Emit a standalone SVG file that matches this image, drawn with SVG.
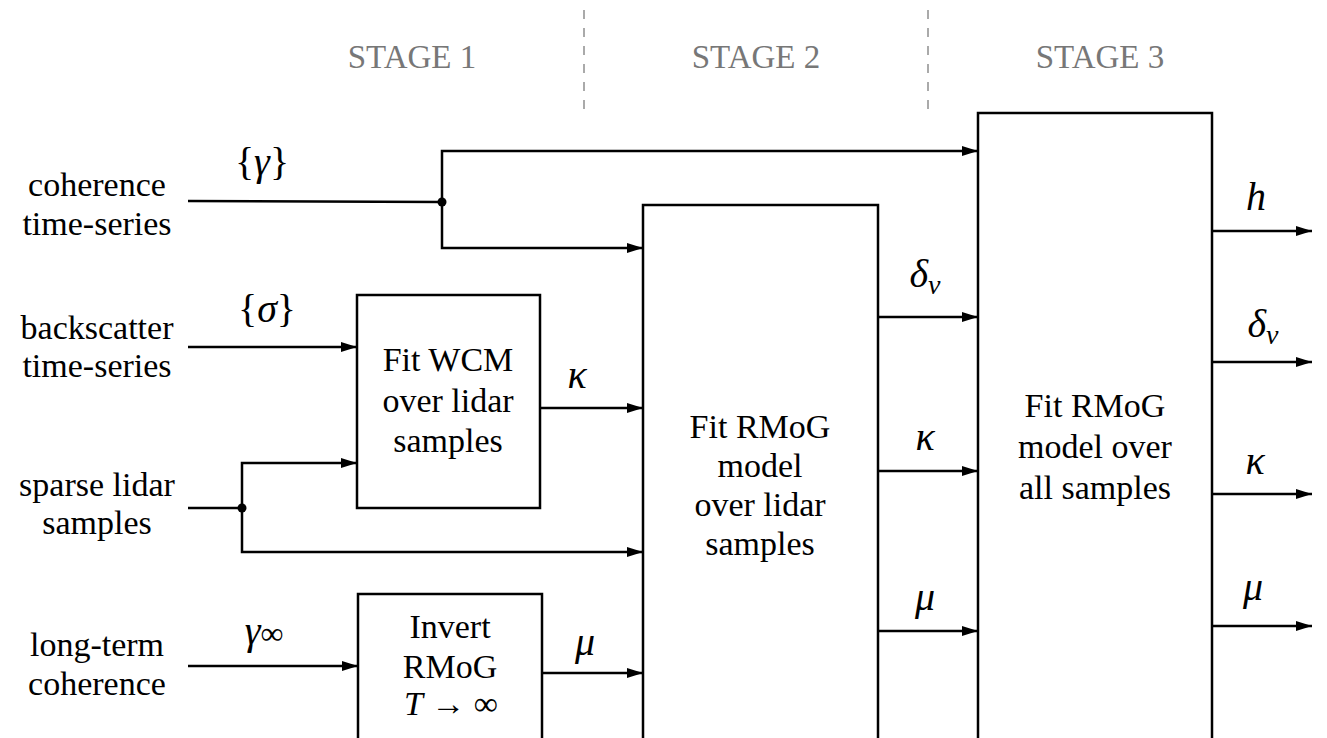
<svg xmlns="http://www.w3.org/2000/svg" width="1327" height="738" viewBox="0 0 1327 738">
<defs>
<marker id="ah" markerWidth="16" markerHeight="10" refX="16" refY="5" orient="auto" markerUnits="userSpaceOnUse">
<path d="M0,0 L16,5 L0,10 Z" fill="#000"/>
</marker>
<style>
.box{fill:#fff;stroke:#000;stroke-width:2.5}
.ln{fill:none;stroke:#000;stroke-width:2.5}
.arr{fill:none;stroke:#000;stroke-width:2.5;marker-end:url(#ah)}
.dash{stroke:#aaa;stroke-width:2;stroke-dasharray:9,9}
text{font-family:'Liberation Serif','Times New Roman',serif}
.stage{font-size:33px;fill:#777;text-anchor:middle}
.t{font-size:34px;fill:#000;text-anchor:middle}
.m{font-size:40px;font-style:italic;fill:#000;text-anchor:middle}
.up{font-style:normal}
</style>
</defs>
<rect width="1327" height="738" fill="#fff"/>
<g id="stages">
<line class="dash" x1="584" y1="10" x2="584" y2="112"/>
<line class="dash" x1="928" y1="10" x2="928" y2="112"/>
<text class="stage" x="412" y="68">STAGE 1</text>
<text class="stage" x="756" y="68">STAGE 2</text>
<text class="stage" x="1100" y="68">STAGE 3</text>
</g>
<g id="inputs">
<text class="t" x="97" y="196">coherence</text>
<text class="t" x="97" y="235">time-series</text>
<text class="t" x="97" y="339">backscatter</text>
<text class="t" x="97" y="377">time-series</text>
<text class="t" x="97" y="496">sparse lidar</text>
<text class="t" x="97" y="534">samples</text>
<text class="t" x="97" y="656">long-term</text>
<text class="t" x="97" y="695">coherence</text>
</g>
<g id="connectors">
<polyline class="ln" points="188,201 442,202"/>
<polyline class="arr" points="442,202 442,151 978,151"/>
<polyline class="arr" points="442,202 442,248 643,248"/>
<circle cx="442" cy="202" r="4.5" fill="#000"/>
<polyline class="arr" points="188,347 357,347"/>
<polyline class="ln" points="188,508 242,508"/>
<polyline class="arr" points="242,508 242,463 357,463"/>
<polyline class="arr" points="242,508 242,552 643,552"/>
<circle cx="242" cy="508" r="4.5" fill="#000"/>
<polyline class="arr" points="188,666 358,666"/>
<polyline class="arr" points="540,408 643,408"/>
<polyline class="arr" points="542,673 643,673"/>
<polyline class="arr" points="878,317 978,317"/>
<polyline class="arr" points="878,471 978,471"/>
<polyline class="arr" points="878,631 978,631"/>
<polyline class="arr" points="1212,231 1312,231"/>
<polyline class="arr" points="1212,362 1312,362"/>
<polyline class="arr" points="1212,494 1312,494"/>
<polyline class="arr" points="1212,626 1312,626"/>
</g>
<g id="labels">
<text class="m" x="262" y="175"><tspan class="up">{</tspan>γ<tspan class="up">}</tspan></text>
<text class="m" x="267" y="322"><tspan class="up">{</tspan>σ<tspan class="up">}</tspan></text>
<text class="m" x="264" y="644" font-size="38">γ<tspan font-style="normal" font-size="32">∞</tspan></text>
<text class="m" x="577" y="388">κ</text>
<text class="m" x="585" y="655">μ</text>
<text class="m" x="925" y="287">δ<tspan font-size="28" dy="7">v</tspan></text>
<text class="m" x="925" y="450">κ</text>
<text class="m" x="925" y="610">μ</text>
<text class="m" x="1256" y="210">h</text>
<text class="m" x="1263" y="337">δ<tspan font-size="28" dy="7">v</tspan></text>
<text class="m" x="1255" y="474">κ</text>
<text class="m" x="1253" y="600">μ</text>
</g>
<g id="wcm">
<rect class="box" x="357" y="295" width="183" height="213"/>
<text class="t" x="448" y="371">Fit WCM</text>
<text class="t" x="448" y="412">over lidar</text>
<text class="t" x="448" y="452">samples</text>
</g>
<g id="invert">
<rect class="box" x="358" y="594" width="184" height="150"/>
<text class="t" x="450" y="638">Invert</text>
<text class="t" x="450" y="678">RMoG</text>
<text class="t" x="451" y="715" font-size="38"><tspan font-style="italic">T</tspan> → ∞</text>
</g>
<g id="rmog-lidar">
<rect class="box" x="643" y="205" width="235" height="540"/>
<text class="t" x="760" y="438">Fit RMoG</text>
<text class="t" x="760" y="477">model</text>
<text class="t" x="760" y="516">over lidar</text>
<text class="t" x="760" y="555">samples</text>
</g>
<g id="rmog-all">
<rect class="box" x="978" y="113" width="234" height="632"/>
<text class="t" x="1095" y="417">Fit RMoG</text>
<text class="t" x="1095" y="458">model over</text>
<text class="t" x="1095" y="499">all samples</text>
</g>
</svg>
